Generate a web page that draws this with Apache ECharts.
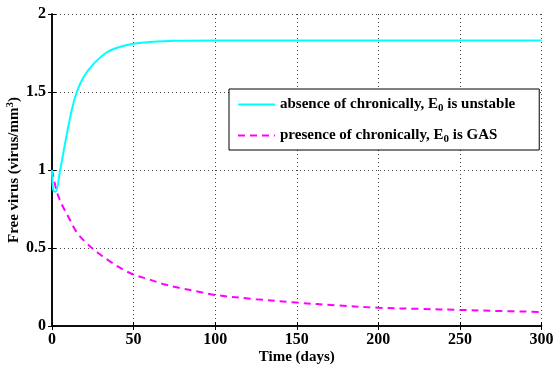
<!DOCTYPE html>
<html><head><meta charset="utf-8">
<script src="https://cdn.jsdelivr.net/npm/echarts@6/dist/echarts.min.js"></script>
<style>html,body{margin:0;padding:0;background:#fff}#c{width:554px;height:367px}</style>
</head><body><div id="c"></div>
<script>
const xTicks = [0, 50, 100, 150, 200, 250, 300];
const yTicks = [0, 0.5, 1, 1.5, 2];
const seriesNames = ['absence of chronically, E0 is unstable', 'presence of chronically, E0 is GAS'];
const absence = [[0,1.0],[0.8,0.87],[2.2,0.86],[5,1.0],[8,1.17],[12,1.38],[15.2,1.50],[19.3,1.595],[25.5,1.68],[33.7,1.755],[41.9,1.79],[50,1.81],[60,1.82],[75,1.828],[100,1.83],[150,1.83],[200,1.83],[250,1.83],[300,1.83]];
const presence = [[0,1.0],[3,0.86],[6,0.78],[10,0.70],[15.2,0.60],[21.3,0.53],[28.5,0.466],[35.7,0.413],[43.9,0.36],[50,0.33],[60,0.297],[68.6,0.268],[77.8,0.245],[90,0.22],[100,0.199],[125,0.172],[150,0.15],[175,0.132],[200,0.117],[225,0.110],[250,0.103],[275,0.096],[300,0.09]];

const font = 'Liberation Serif';
const frameAxis = {axisLine: {show: true, lineStyle: {color: '#000', width: 1.5}},
  axisTick: {show: true, inside: true, length: 4, lineStyle: {color: '#000'}},
  axisLabel: {show: false}, splitLine: {show: false}};
const chart = echarts.init(document.getElementById('c'));
chart.setOption({
  animation: false,
  grid: {left: 52, right: 12.5, top: 14, bottom: 41, show: false, outerBoundsMode: 'none', containLabel: false},
  xAxis: [{
    type: 'value', min: 0, max: 300, interval: 50,
    name: 'Time (days)', nameLocation: 'middle', nameGap: 24, nameMoveOverlap: false,
    nameTextStyle: {fontFamily: font, fontWeight: 'bold', fontSize: 15, color: '#000'},
    axisLine: {show: true, onZero: false, lineStyle: {color: '#000', width: 1.5}},
    axisTick: {show: true, inside: true, length: 4, lineStyle: {color: '#000'}},
    axisLabel: {fontFamily: font, fontWeight: 'bold', fontSize: 16, color: '#000', margin: 6},
    splitLine: {show: true, lineStyle: {type: [1, 3], color: '#444', width: 1}}
  }, Object.assign({type: 'value', position: 'top', min: 0, max: 300, interval: 50}, frameAxis)],
  yAxis: [{
    type: 'value', min: 0, max: 2, interval: 0.5,
    name: 'Free virus (virus/mm{sup|3})', nameLocation: 'middle', nameGap: 28, nameRotate: 90, nameMoveOverlap: false,
    nameTextStyle: {fontFamily: font, fontWeight: 'bold', fontSize: 15, color: '#000',
      rich: {sup: {fontFamily: font, fontWeight: 'bold', fontSize: 11, verticalAlign: 'top', padding: [0,0,8,0], color: '#000'}}},
    axisLine: {show: true, onZero: false, lineStyle: {color: '#000', width: 1.5}},
    axisTick: {show: true, inside: true, length: 4, lineStyle: {color: '#000'}},
    axisLabel: {fontFamily: font, fontWeight: 'bold', fontSize: 16, color: '#000', margin: 6},
    splitLine: {show: true, lineStyle: {type: [1, 3], color: '#444', width: 1}}
  }, Object.assign({type: 'value', position: 'right', min: 0, max: 2, interval: 0.5}, frameAxis)],
  legend: {
    left: 229, top: 89, orient: 'vertical',
    backgroundColor: '#fff', borderColor: '#000', borderWidth: 1,
    padding: [8, 24, 5, 8], itemGap: 14, itemWidth: 37, itemHeight: 14,
    data: seriesNames,
    itemStyle: {opacity: 0},
    formatter: function (n) { return n.replace('E0', 'E{sub|0}'); },
    textStyle: {fontFamily: font, fontWeight: 'bold', fontSize: 15, color: '#000',
      rich: {sub: {fontFamily: font, fontWeight: 'bold', fontSize: 11, verticalAlign: 'bottom', padding: [8,0,0,0], color: '#000'}}}
  },
  series: [
    {name: seriesNames[0], type: 'line', data: absence, smooth: 0.35, showSymbol: false, symbol: 'none',
     lineStyle: {color: '#00ffff', width: 2}, itemStyle: {color: '#00ffff'}, z: 3},
    {name: seriesNames[1], type: 'line', data: presence, smooth: 0.35, showSymbol: false, symbol: 'none',
     lineStyle: {color: '#ff00ff', width: 2, type: [7, 5]}, itemStyle: {color: '#ff00ff'}, z: 2}
  ]
});
</script></body></html>
